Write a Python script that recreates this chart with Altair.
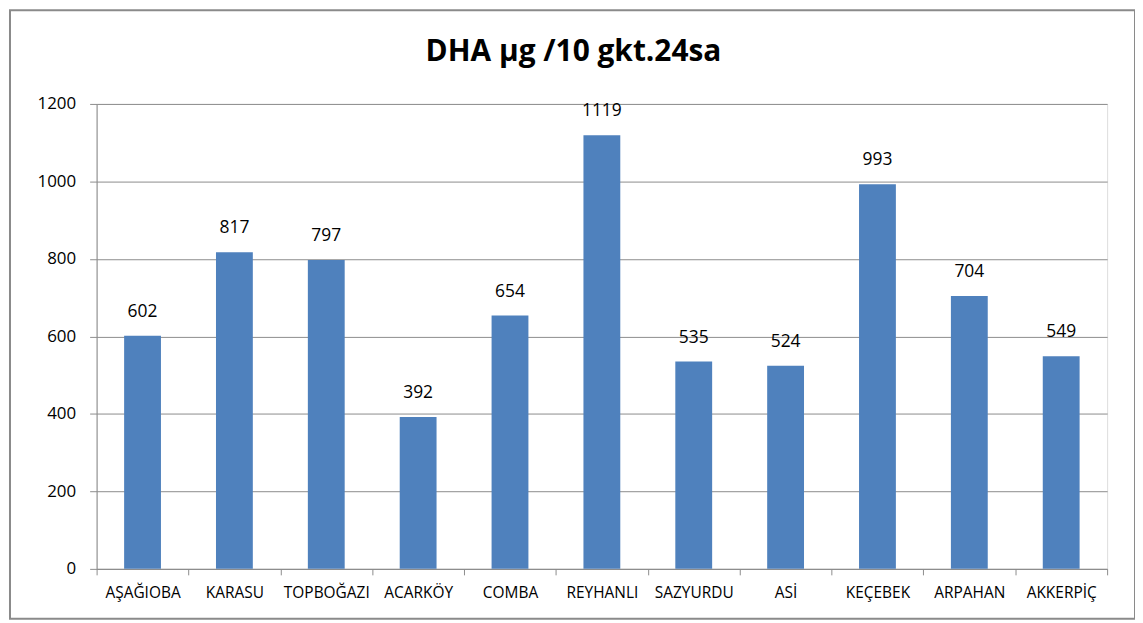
import altair as alt
import pandas as pd

categories = ["AŞAĞIOBA", "KARASU", "TOPBOĞAZI", "ACARKÖY", "COMBA", "REYHANLI",
              "SAZYURDU", "ASİ", "KEÇEBEK", "ARPAHAN", "AKKERPİÇ"]
values = [602, 817, 797, 392, 654, 1119, 535, 524, 993, 704, 549]
y_ticks = [0, 200, 400, 600, 800, 1000, 1200]
title_text = "DHA µg /10 gkt.24sa"

df = pd.DataFrame({"site": categories, "dha": values})

FONT = "Open Sans"
GRID = "#8c8c8c"

x = alt.X("site:N", sort=categories, title=None,
          scale=alt.Scale(paddingInner=0, paddingOuter=0),
          axis=alt.Axis(labelAngle=0, labelFont=FONT, labelFontSize=15.5, labelColor="#000000",
                        tickBand="extent", tickColor=GRID, tickSize=6, domainColor=GRID,
                        labelPadding=11, labelLimit=200))
y = alt.Y("dha:Q", title=None,
          scale=alt.Scale(domain=[0, 1200], nice=False),
          axis=alt.Axis(values=y_ticks, format="d", labelFont=FONT, labelFontSize=17,
                        labelColor="#000000", gridColor=GRID, tickColor=GRID, tickSize=7,
                        domainColor=GRID, labelPadding=14))

bars = alt.Chart(df).mark_bar(size=37, color="#4F81BD").encode(x=x, y=y)
labels = alt.Chart(df).mark_text(baseline="bottom", dy=-15, font=FONT, fontSize=17.5,
                                  color="#000000").encode(x=x, y=y, text="dha:Q")

one = alt.Data(values=[{"t": title_text}])
border = alt.Chart(one).mark_rect(
    fill=None, stroke="#8a8a8a", strokeWidth=2
).encode(x=alt.value(-87), x2=alt.value(1043), y=alt.value(-94), y2=alt.value(517))
title = alt.Chart(one).mark_text(
    font=FONT, fontSize=30, fontWeight="bold", color="#000000", baseline="middle", align="center"
).encode(x=alt.value(479), y=alt.value(-52), text="t:N")

chart = alt.layer(bars, labels, border, title).properties(
    width=1015, height=467,
    autosize=alt.AutoSizeParams(type="none"),
    padding={"left": 89, "top": 95, "right": 28, "bottom": 50},
).configure_view(stroke=None).configure(background="white")

chart.save("out.html", embed_options={"renderer": "svg", "actions": False})
